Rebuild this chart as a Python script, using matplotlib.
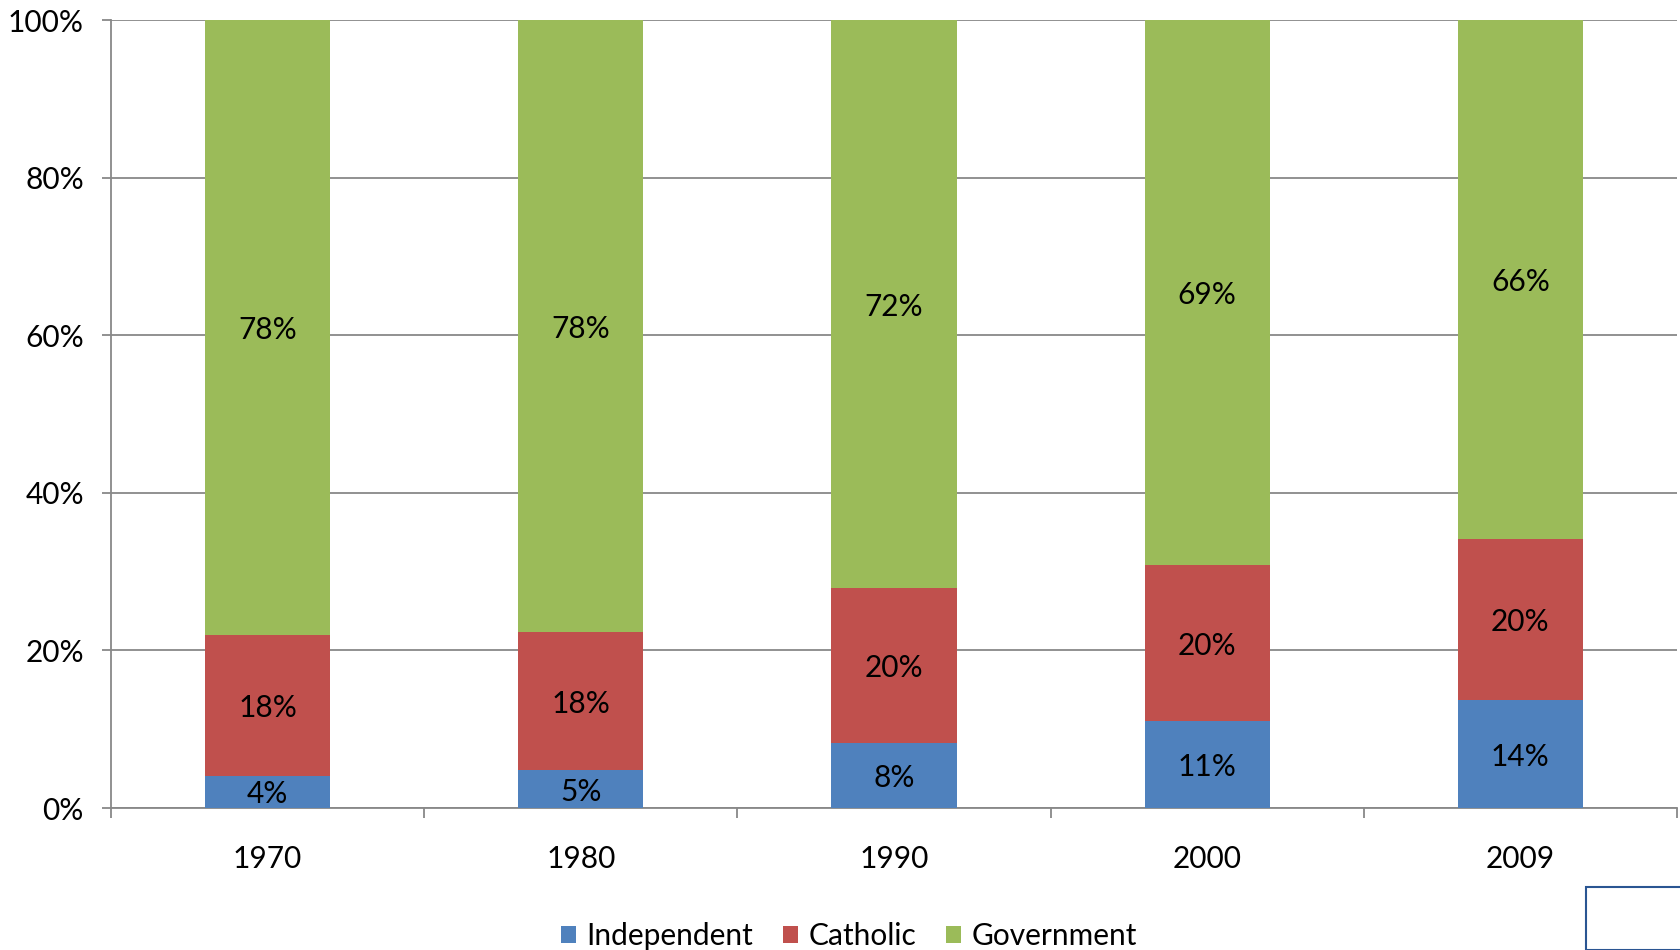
import matplotlib
matplotlib.use("Agg")
import matplotlib.pyplot as plt
import matplotlib.patches as mpatches
import numpy as np

plt.rcParams['font.family'] = ['Lato', 'DejaVu Sans']

years = ["1970", "1980", "1990", "2000", "2009"]
independent = [4.1, 4.8, 8.3, 11.0, 13.7]
catholic = [17.8, 17.5, 19.6, 19.8, 20.4]
government = [78.1, 77.7, 72.1, 69.2, 65.9]
series_names = ["Independent", "Catholic", "Government"]
colors = ["#4F81BD", "#C0504D", "#9BBB59"]
grid_gray = "#888888"
fs = 21.5

fig = plt.figure(figsize=(16.8, 9.5), dpi=100)
ax = fig.add_axes([111 / 1680, 142 / 950, 1566 / 1680, 788 / 950])

x = np.arange(len(years))
bottom = np.zeros(len(years))
handles = []
for vals, name, col in zip([independent, catholic, government], series_names, colors):
    vals = np.array(vals)
    bars = ax.bar(x, vals, width=0.4, bottom=bottom, color=col, zorder=3, label=name)
    handles.append(bars)
    for xi, b, v in zip(x, bottom, vals):
        ax.text(xi, b + v / 2, f"{round(v):d}%", ha="center", va="center_baseline",
                fontsize=fs, color="black", zorder=4)
    bottom = bottom + vals

ax.set_xlim(-0.5, len(years) - 0.5)
ax.set_ylim(0, 100)
ax.set_yticks(np.arange(0, 101, 20))
ax.set_yticklabels([f"{v}%" for v in range(0, 101, 20)], fontsize=fs)
ax.yaxis.grid(True, color=grid_gray, linewidth=1.3, zorder=0)
ax.set_axisbelow(True)

ax.set_xticks(x)
ax.set_xticklabels(years, fontsize=fs)
ax.set_xticks(np.arange(-0.5, len(years)), minor=True)
ax.tick_params(axis="x", which="major", length=0, pad=27)
ax.tick_params(axis="x", which="minor", length=7, width=1.3, color=grid_gray, direction="out")
ax.tick_params(axis="y", length=6.5, width=1.3, color=grid_gray, pad=13)

for s in ["top", "right"]:
    ax.spines[s].set_visible(False)
for s in ["left", "bottom"]:
    ax.spines[s].set_color(grid_gray)
    ax.spines[s].set_linewidth(1.3)

leg = fig.legend(handles=handles, labels=series_names, loc="center",
                 bbox_to_anchor=(849 / 1680, 1 - 936 / 950), ncol=3, frameon=False,
                 fontsize=fs, handlelength=0.5, handleheight=0.5,
                 handletextpad=0.35, columnspacing=1.0)

# stray box in the lower-right corner of the original
fig.patches.append(mpatches.Rectangle((1586 / 1680, 0), 0.1, (950 - 887) / 950,
                                      transform=fig.transFigure, fill=False,
                                      edgecolor="#2A5592", linewidth=1.5))

fig.savefig("out.png", dpi=100)
